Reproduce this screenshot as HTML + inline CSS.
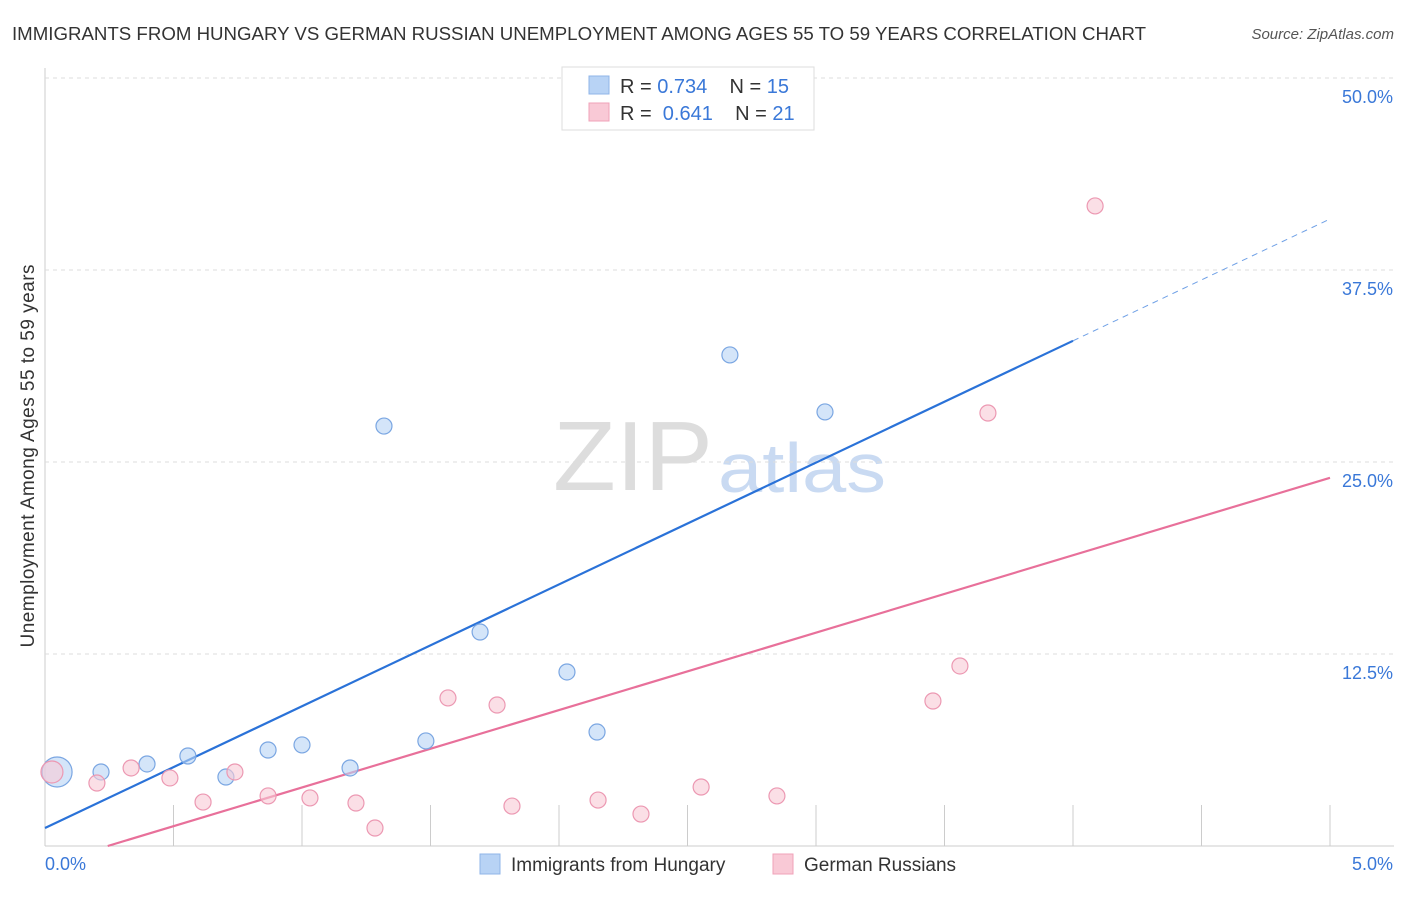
<!DOCTYPE html>
<html><head><meta charset="utf-8"><style>
body{margin:0;background:#fff;font-family:"Liberation Sans",sans-serif;}
svg text{font-family:"Liberation Sans",sans-serif;}
</style></head><body>
<svg id="c" width="1406" height="892">
<text x="12" y="40" font-size="18" fill="#333" textLength="1134" lengthAdjust="spacingAndGlyphs">IMMIGRANTS FROM HUNGARY VS GERMAN RUSSIAN UNEMPLOYMENT AMONG AGES 55 TO 59 YEARS CORRELATION CHART</text>
<text x="1394" y="39" font-size="15" fill="#555" text-anchor="end" font-style="italic">Source: ZipAtlas.com</text>
<text x="34" y="456" font-size="19" fill="#333" text-anchor="middle" textLength="383" transform="rotate(-90 34 456)">Unemployment Among Ages 55 to 59 years</text>
<text x="553" y="490" font-size="98" fill="#ddd" font-family="Liberation Serif" textLength="160" lengthAdjust="spacingAndGlyphs">ZIP</text>
<text x="718" y="492" font-size="70" fill="#c9daf2" textLength="168" lengthAdjust="spacingAndGlyphs">atlas</text>
<g id="grid"></g><g id="lines"></g><g id="pts"></g>
<g>
<rect x="562" y="67" width="252" height="63" fill="#fff" stroke="#ddd"/>
<rect x="589" y="76" width="20" height="18" fill="#b8d3f5" stroke="#8fb4e8"/>
<text x="620" y="93" font-size="20" fill="#333" xml:space="preserve">R = <tspan fill="#3a78d8">0.734</tspan>    N = <tspan fill="#3a78d8">15</tspan></text>
<rect x="589" y="103" width="20" height="18" fill="#f9c9d6" stroke="#f0a2b8"/>
<text x="620" y="120" font-size="20" fill="#333" xml:space="preserve">R =  <tspan fill="#3a78d8">0.641</tspan>    N = <tspan fill="#3a78d8">21</tspan></text>
</g>
<g>
<rect x="480" y="854" width="20" height="20" fill="#b8d3f5" stroke="#8fb4e8"/>
<text x="511" y="871" font-size="19" fill="#333">Immigrants from Hungary</text>
<rect x="773" y="854" width="20" height="20" fill="#f9c9d6" stroke="#f0a2b8"/>
<text x="804" y="871" font-size="19" fill="#333">German Russians</text>
</g>
<text x="45" y="870" font-size="18" fill="#3a78d8">0.0%</text>
<text x="1393" y="870" font-size="18" fill="#3a78d8" text-anchor="end">5.0%</text>
</svg>
<script>
const yTicks=[12.5,25,37.5,50];
const yTickLabels=["12.5%","25.0%","37.5%","50.0%"];
const xTickCount=10;
const blueX=[0.047,0.218,0.397,0.556,0.704,0.868,1.0,1.187,1.319,1.482,1.693,2.031,2.148,2.665,3.035];
const blueY=[4.82,4.82,5.34,5.86,4.49,6.25,6.58,5.08,27.34,6.84,13.93,11.33,7.42,31.97,28.26];
const pinkX=[0.027,0.202,0.335,0.486,0.615,0.739,0.868,1.031,1.210,1.284,1.568,1.759,1.817,2.152,2.319,2.553,2.848,3.455,3.560,3.669,4.086];
const pinkY=[4.82,4.10,5.08,4.43,2.86,4.82,3.26,3.13,2.80,1.17,9.64,9.18,2.60,2.99,2.08,3.84,3.26,9.44,11.72,28.19,41.67];
const blueLine=[1.17,7.93];
const pinkLine=[-1.23,5.04];
const NS="http://www.w3.org/2000/svg";
const sx=v=>45+v*257, sy=v=>846-v*15.36;
function mk(p,t,a){const e=document.createElementNS(NS,t);for(const k in a)e.setAttribute(k,a[k]);p.appendChild(e);return e;}
const g=document.getElementById('grid');
const ax=mk(g,'line',{x1:45,y1:68,x2:45,y2:846,stroke:'#ccc'});


const bx=mk(g,'line',{x1:45,y1:846,x2:1394,y2:846,stroke:'#ccc'});


yTicks.forEach((t,i)=>{
 const l=mk(g,'line',{x1:45,x2:1394,y1:sy(t),y2:sy(t),stroke:'#ddd','stroke-dasharray':'4 4'});
 
 
 const tx=mk(g,'text',{x:1393,y:sy(t)+25,'font-size':18,fill:'#3a78d8','text-anchor':'end'});
 tx.textContent=yTickLabels[i];
 
 
});
for(let i=1;i<=xTickCount;i++){
 const x=sx(i*0.5);
 const l=mk(g,'line',{x1:x,x2:x,y1:805,y2:846,stroke:'#ccc'});
 
 
}
const L=document.getElementById('lines');
let e=mk(L,'line',{x1:sx(0),y1:sy(blueLine[0]),x2:sx(4),y2:sy(blueLine[0]+4*blueLine[1]),stroke:'#2a72d8','stroke-width':2.2});


e=mk(L,'line',{x1:sx(4),y1:sy(blueLine[0]+4*blueLine[1]),x2:sx(5),y2:sy(blueLine[0]+5*blueLine[1]),stroke:'#6fa0e6','stroke-width':1,'stroke-dasharray':'6 5'});


const px0=-pinkLine[0]/pinkLine[1];
e=mk(L,'line',{x1:sx(px0),y1:sy(0),x2:sx(5),y2:sy(pinkLine[0]+5*pinkLine[1]),stroke:'#e8709a','stroke-width':2.2});


const P=document.getElementById('pts');
blueX.forEach((x,i)=>{
 const c=mk(P,'circle',{cx:sx(x),cy:sy(blueY[i]),r:i==0?15:8,fill:'rgba(184,211,245,0.6)',stroke:'#7aa6e2','stroke-width':1.2});
 
 
});
pinkX.forEach((x,i)=>{
 const c=mk(P,'circle',{cx:sx(x),cy:sy(pinkY[i]),r:i==0?11:8,fill:'rgba(249,201,214,0.6)',stroke:'#ec98b2','stroke-width':1.2});
 
 
});
</script>
</body></html>
